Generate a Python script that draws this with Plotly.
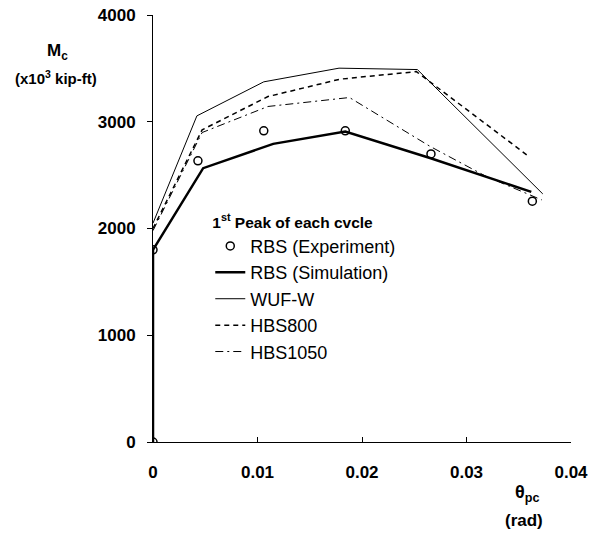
import plotly.graph_objects as go

# Data (theta_pc in rad, Mc in x10^3 kip-ft)
exp_x = [0.0, 0.0, 0.0043, 0.0106, 0.0184, 0.0266, 0.0363]
exp_y = [0, 1800, 2634, 2915, 2915, 2699, 2256]

sim_x = [0.0, 0.0, 0.0048, 0.0115, 0.0184, 0.0265, 0.0362]
sim_y = [0, 1800, 2565, 2793, 2908, 2660, 2343]

wuf_x = [0.0, 0.0042, 0.0106, 0.0178, 0.0253, 0.0373]
wuf_y = [2050, 3055, 3374, 3502, 3489, 2324]

h800_x = [0.0, 0.0047, 0.0110, 0.0179, 0.0252, 0.0359]
h800_y = [2000, 2924, 3236, 3399, 3470, 2680]

h1050_x = [0.0, 0.0047, 0.0110, 0.0188, 0.0265, 0.0319, 0.0372]
h1050_y = [1980, 2899, 3143, 3227, 2770, 2487, 2268]

x_ticks = [0, 0.01, 0.02, 0.03, 0.04]
x_ticklabels = ["0", "0.01", "0.02", "0.03", "0.04"]
y_ticks = [0, 1000, 2000, 3000, 4000]
y_ticklabels = ["0", "1000", "2000", "3000", "4000"]

FONT = "Liberation Sans, Arial, sans-serif"

fig = go.Figure()
fig.add_trace(go.Scatter(x=exp_x, y=exp_y, mode="markers", name="RBS (Experiment)",
                         marker=dict(symbol="circle-open", size=8, color="black", line=dict(width=1.5))))
fig.add_trace(go.Scatter(x=sim_x, y=sim_y, mode="lines", name="RBS (Simulation)",
                         line=dict(color="black", width=2.5)))
fig.add_trace(go.Scatter(x=wuf_x, y=wuf_y, mode="lines", name="WUF-W",
                         line=dict(color="black", width=1)))
fig.add_trace(go.Scatter(x=h800_x, y=h800_y, mode="lines", name="HBS800",
                         line=dict(color="black", width=1.5, dash="5px,4px")))
fig.add_trace(go.Scatter(x=h1050_x, y=h1050_y, mode="lines", name="HBS1050",
                         line=dict(color="black", width=1, dash="8px,4px,2px,4px")))

# page body has an 8px margin: shrink the figure to compensate
fig.update_layout(
    width=589, height=525,
    margin=dict(l=145, r=26, t=7, b=91),
    plot_bgcolor="white", paper_bgcolor="white",
    font=dict(family=FONT, color="black", size=18),
    legend=dict(
        x=0.137, y=0.549, xanchor="left", yanchor="top",
        bgcolor="rgba(0,0,0,0)",
        title=dict(text="<b>1<sup>st</sup> Peak of each cvcle</b>",
                   font=dict(size=15.5, family=FONT)),
        font=dict(size=18, family=FONT),
        itemwidth=30,
    ),
    xaxis=dict(range=[0, 0.04], tickvals=x_ticks, ticktext=x_ticklabels,
               showgrid=False, zeroline=False, showline=True, linecolor="black", linewidth=1,
               ticks="inside", ticklen=5, tickcolor="black", ticklabelstandoff=15,
               ticklabeloverflow="allow", automargin=False,
               tickfont=dict(size=17, weight="bold", family=FONT)),
    yaxis=dict(range=[0, 4000], tickvals=y_ticks, ticktext=y_ticklabels,
               showgrid=False, zeroline=False, showline=True, linecolor="black", linewidth=1,
               ticks="outside", ticklen=5, tickcolor="black", ticklabelstandoff=8,
               ticklabeloverflow="allow", automargin=False,
               tickfont=dict(size=17, weight="bold", family=FONT)),
    showlegend=True,
)

def px_x(p):
    return (p - 153) / 418

def px_y(p):
    return (442 - p) / 427

fig.add_annotation(xref="paper", yref="paper", x=px_x(57), y=px_y(52),
                   text="<b>M<sub>c</sub></b>", showarrow=False,
                   font=dict(size=17, family=FONT), xanchor="center", yanchor="middle")
fig.add_annotation(xref="paper", yref="paper", x=px_x(56), y=px_y(77),
                   text="<b>(x10<sup>3</sup> kip-ft)</b>", showarrow=False,
                   font=dict(size=15, family=FONT), xanchor="center", yanchor="middle")
fig.add_annotation(xref="paper", yref="paper", x=px_x(527), y=px_y(494),
                   text="<b>θ<sub>pc</sub></b>", showarrow=False,
                   font=dict(size=18, family=FONT), xanchor="center", yanchor="middle")
fig.add_annotation(xref="paper", yref="paper", x=px_x(524), y=px_y(520),
                   text="<b>(rad)</b>", showarrow=False,
                   font=dict(size=17, family=FONT), xanchor="center", yanchor="middle")

fig.write_html("out.html")
